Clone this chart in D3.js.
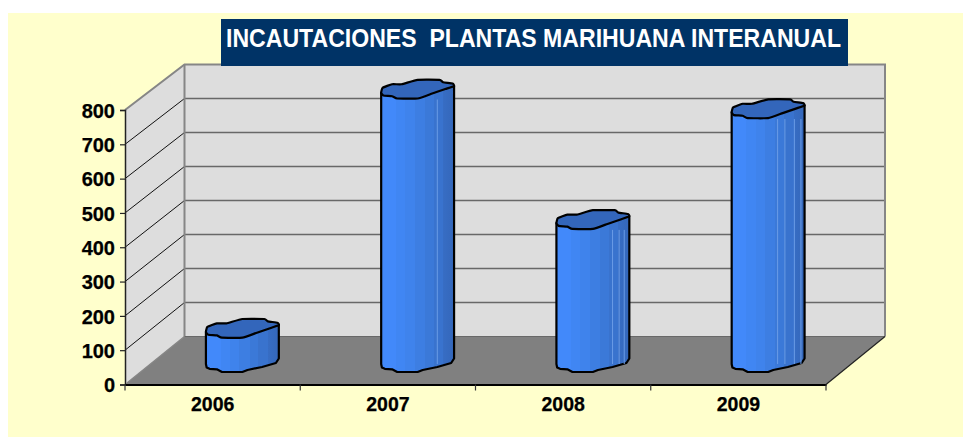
<!DOCTYPE html>
<html><head><meta charset="utf-8">
<script src="https://cdn.jsdelivr.net/npm/d3@7"></script>
<style>html,body{margin:0;padding:0;background:#fff}svg{display:block}text{font-family:"Liberation Sans",Arial,sans-serif;font-weight:bold}</style>
</head><body><svg id="c" width="963" height="437"></svg>
<script>
const titleText = "INCAUTACIONES  PLANTAS MARIHUANA INTERANUAL";
const years = ["2006","2007","2008","2009"];
const values = [100, 797, 417, 740];
const yTicks = [0,100,200,300,400,500,600,700,800];
const yTickLabels = ["0","100","200","300","400","500","600","700","800"];
const barHighlights = [[], [.77], [.77,.86,.93], [.63,.73,.86,.95]];

const svg = d3.select("#c");
const front = {l:125, r:826, t:110, b:384.5};
const back = {l:184.5, r:885, t:64.5, b:336.5};
const x = d3.scaleBand().domain(years).range([front.l, front.r]);
const y = d3.scaleLinear().domain([0,800]).range([front.b, front.t]);
const yBack = d3.scaleLinear().domain([0,800]).range([back.b, back.t]);
const line = d3.line();
const soft = d3.line().curve(d3.curveCardinalClosed.tension(.6));

svg.append("rect").attr("x",8).attr("y",13).attr("width",955).attr("height",424).attr("fill","#FFFFCC");

// walls and floor
const BL=[back.l,back.b], BT=[back.l,back.t], BR=[back.r,back.t], BB=[back.r,back.b];
const FL=[front.l,front.b], FT=[front.l,front.t], FR=[front.r,front.b];
svg.append("path").attr("d", line([BT,BR,BB,BL])+"Z").attr("fill","#DDDDDD");
svg.append("path").attr("d", line([FT,BT,BL,FL])+"Z").attr("fill","#DDDDDD");
svg.append("path").attr("d", line([FL,FR,BB,BL])+"Z").attr("fill","#808080");

// gridlines
const gridTicks = yTicks.filter(d=>d>0&&d<800);
svg.selectAll(".gb").data(gridTicks).join("line")
  .attr("x1",back.l).attr("x2",back.r)
  .attr("y1",d=>yBack(d)).attr("y2",d=>yBack(d))
  .attr("stroke","#686868").attr("stroke-width",1.6);
svg.selectAll(".gs").data(gridTicks).join("line")
  .attr("x1",front.l).attr("x2",back.l)
  .attr("y1",d=>y(d)).attr("y2",d=>yBack(d))
  .attr("stroke","#111").attr("stroke-width",1);

// frame
const framePath = (pts,col,w)=>svg.append("path").attr("fill","none").attr("stroke",col).attr("stroke-width",w).attr("d",line(pts));
framePath([FT,BT,BR,BB],"#868686",2);
framePath([BT,BL],"#868686",2);
framePath([BL,[front.l+2,front.b-1.5]],"#868686",1.5);
framePath([BL,BB],"#686868",1.2);
framePath([FR,BB],"#222",1.2);

// bars
const defs = svg.append("defs");
const bandStops = [[0,"#4289FA"],[.2,"#4289FA"],[.2,"#4086F3"],[.33,"#4086F3"],[.33,"#3F83EC"],[.46,"#3F83EC"],[.46,"#3D7EE2"],[.6,"#3D7EE2"],[.6,"#3B79D8"],[.72,"#3B79D8"],[.72,"#3973CE"],[.85,"#3973CE"],[.85,"#376DC4"],[1,"#3467BA"]];
const g = defs.append("linearGradient").attr("id","barGrad").attr("x1",0).attr("x2",1).attr("y1",0).attr("y2",0);
bandStops.forEach(s=>g.append("stop").attr("offset",s[0]).attr("stop-color",s[1]));

// bar outline profile: fraction of width, px above the front-most point
const frontEdge = [[0,5.7],[.03,3],[.15,2.3],[.22,0],[.5,0],[.7,5],[.88,9.5],[1,12.5]];
const backEdge = [[0,5.7],[.02,10.7],[.15,14.3],[.28,14.3],[.5,18.7],[.8,18.7],[.85,16.3],[.98,15],[1,12.5]];
const bottomEdge = [[0,8],[.01,4.5],[.05,3.2],[.15,2.7],[.22,0],[.5,0],[.57,2],[.77,5],[.96,9],[1,13.5]];
const barW = x.bandwidth()*0.416, barDx = (back.l-front.l)/2, barDy = -12.5;
const plotX = (d,u)=>x(d)+x.bandwidth()/2+barDx-barW/2+u*barW;

const bars = svg.selectAll(".bar").data(years.map((d,i)=>({year:d,value:values[i],marks:barHighlights[i]}))).join("g").attr("class","bar");
bars.append("path")
  .attr("d", d=>{
    const top = y(d.value)+barDy, base = y(0)+barDy;
    const lower = bottomEdge.map(p=>[plotX(d.year,p[0]), base-p[1]]);
    const pts = [[plotX(d.year,0),top-5.7]].concat(lower).concat([[plotX(d.year,1),top-12.5]]);
    return line(pts)+"Z";
  })
  .attr("fill","url(#barGrad)").attr("stroke","#000").attr("stroke-width",2.2).attr("stroke-linejoin","round");
bars.each(function(d){
  d3.select(this).selectAll("line").data(d.marks).join("line")
    .attr("x1",u=>plotX(d.year,u)).attr("x2",u=>plotX(d.year,u))
    .attr("y1",y(d.value)+barDy+1).attr("y2",y(0)+barDy-8)
    .attr("stroke","#6A9CE6").attr("stroke-width",1);
});
bars.append("path")
  .attr("d", d=>{
    const top = y(d.value)+barDy;
    const pts = backEdge.map(p=>[plotX(d.year,p[0]), top-p[1]])
      .concat(frontEdge.slice().reverse().map(p=>[plotX(d.year,p[0]), top-p[1]]).slice(1,-1));
    return soft(pts);
  })
  .attr("fill","#3366BB").attr("stroke","#000").attr("stroke-width",2.2).attr("stroke-linejoin","round");

// axes
const yAxis = svg.append("g").attr("transform",`translate(${front.l},0)`)
  .call(d3.axisLeft(y).tickValues(yTicks).tickFormat((d,i)=>yTickLabels[i]).tickSize(5).tickPadding(5));
yAxis.selectAll("text").attr("font-size",20).attr("fill","#000").attr("dy","0.36em").attr("stroke","#000").attr("stroke-width",.25);
yAxis.selectAll("line").attr("stroke","#222").attr("stroke-width",1.2);
yAxis.select(".domain").attr("stroke","#222").attr("stroke-width",1.5);

const xAxis = svg.append("g").attr("transform",`translate(0,${front.b})`)
  .call(d3.axisBottom(x).tickSize(0).tickPadding(19));
xAxis.selectAll("text").attr("font-size",19.5).attr("fill","#000").attr("dy","0.36em").attr("stroke","#000").attr("stroke-width",.25);
xAxis.select(".domain").attr("stroke","#000").attr("stroke-width",1.8);
svg.selectAll(".xt").data(d3.range(years.length+1)).join("line")
  .attr("x1",i=>front.l+i*x.step()).attr("x2",i=>front.l+i*x.step())
  .attr("y1",front.b).attr("y2",front.b+6)
  .attr("stroke","#333").attr("stroke-width",1.2);

// title
svg.append("rect").attr("x",221).attr("y",19).attr("width",627).attr("height",47).attr("fill","#003366");
svg.append("text").attr("x",226).attr("y",47).attr("textLength",615).attr("lengthAdjust","spacingAndGlyphs")
  .attr("font-size",25).attr("fill","#fff").style("white-space","pre").text(titleText);
</script></body></html>
